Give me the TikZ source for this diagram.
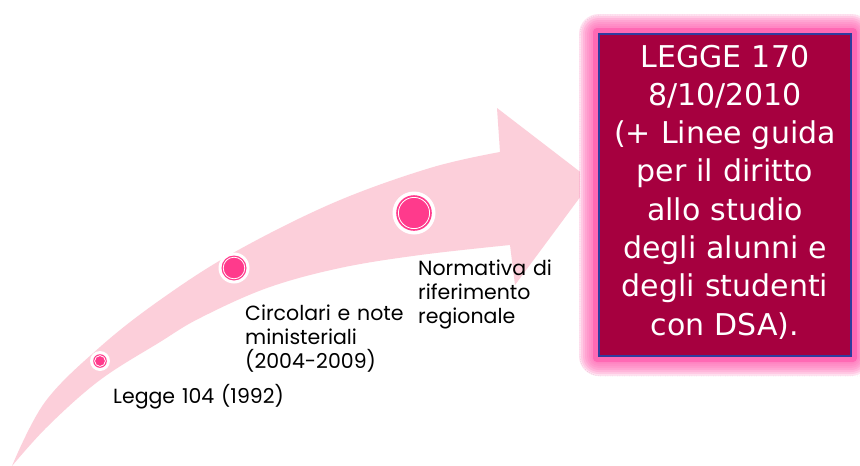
\documentclass[tikz,border=0pt]{standalone}
\usepackage{fontspec}
\setmainfont{Poppins}
\newfontfamily\boxfont{DejaVu Sans}
\definecolor{arrowpink}{HTML}{FCCFDA}
\definecolor{dotpink}{HTML}{FF3A8C}
\definecolor{boxred}{HTML}{A6003F}
\definecolor{boxblue}{HTML}{2F3C9E}
\definecolor{glowpink}{HTML}{FF69B4}
\tikzset{
  halo/.style={fill=white},
  dotfill/.style={fill=dotpink},
  dotring/.style={draw=white, line width=0.8pt},
  lbl/.style={anchor=base west, inner sep=0pt, text width=220pt, align=left,
    font=\fontsize{20.5}{24}\selectfont, text=black},
  boxtext/.style={anchor=base, inner sep=0pt, text width=250pt, align=center,
    font=\boxfont\fontsize{30}{38.3}\selectfont, text=white}
}
\begin{document}
\begin{tikzpicture}[x=1pt,y=-1pt]
\useasboundingbox (0,0) rectangle (860,466);
\fill[white] (0,0) rectangle (860,466);
% curved arrow
\fill[arrowpink]
  plot[smooth, tension=0.6] coordinates {(12,466) (45,402) (100,347) (160,300) (233,253) (333,203) (430,168) (500,152)}
  -- (497,108) -- (592,181) -- (515,285) -- (510,245)
  -- plot[smooth, tension=0.6] coordinates {(510,245) (420,255) (340,268) (267,288) (200,318) (160,342) (100,380) (48,426) (12,466)}
  -- cycle;
% milestones
\coordinate (c1) at (100,361);
\coordinate (c2) at (234,268);
\coordinate (c3) at (414,213);
\fill[halo] (c1) circle (10);
\fill[dotfill] (c1) circle (6.8);
\draw[dotring] (c1) circle (5.4);
\fill[halo] (c2) circle (15.5);
\fill[dotfill] (c2) circle (12.5);
\draw[dotring] (c2) circle (10.8);
\fill[halo] (c3) circle (21.5);
\fill[dotfill] (c3) circle (17.8);
\draw[dotring] (c3) circle (15.6);
% labels
\node[lbl] (l1) at (113,403) {Legge 104 (1992)};
\node[lbl] (l2) at (245,320) {Circolari e note\\ministeriali\\(2004-2009)};
\node[lbl] (l3) at (418,275) {Normativa di\\riferimento\\regionale};
% card and glow
\draw[gray!45, dotted, fill=white, rounded corners=20] (580,15) rectangle (880,376);
\foreach \d in {20,18,...,8}{
  \fill[glowpink, opacity=0.2, rounded corners=\d] (599-\d,34-\d) rectangle (851+\d,356+\d);
}
\fill[glowpink, rounded corners=4] (593,28) rectangle (857,362);
\node[draw=boxblue, line width=1.6pt, fill=boxred, minimum width=252pt, minimum height=322pt, inner sep=0pt] (box) at (725,195) {};
\node[boxtext] (t) at (725,67) {LEGGE 170\\8/10/2010\\(+ Linee guida\\per il diritto\\allo studio\\degli alunni e\\degli studenti\\con DSA).};
\end{tikzpicture}
\end{document}
